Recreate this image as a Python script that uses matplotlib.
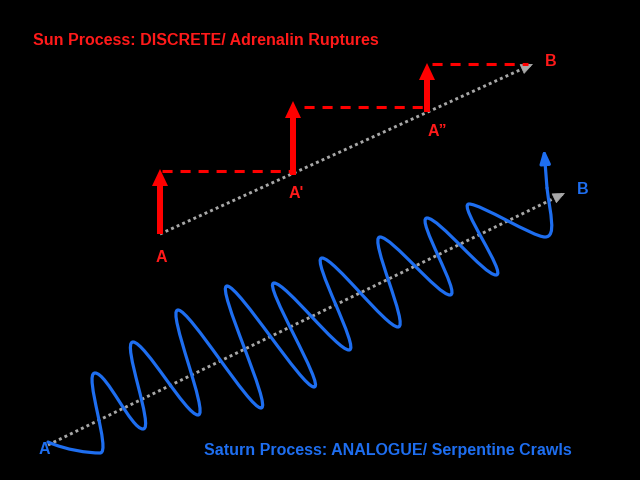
import matplotlib
matplotlib.use('Agg')
import matplotlib.pyplot as plt
from matplotlib.path import Path
from matplotlib.patches import PathPatch

plt.rcParams['font.family'] = ['Liberation Sans', 'DejaVu Sans']

RED = '#ff1a1a'
BLUE = '#1e6ef0'
GREY = '#a8a8a8'

# Sun process: step arrows (x, bottom, top) and dashed plateaus (y, x0, x1)
step_x = [160, 293, 427]
step_bottom = [234, 175, 112]
step_top = [169, 101, 63]
plateau_y = [171, 107, 64]
plateau_x0 = [162, 304, 432]
plateau_x1 = [290, 428, 528]
sun_line = [(160, 234), (533, 64)]
sun_labels = ['A', "A'", 'A\u201d', 'B']
sun_label_pos = [(161, 258), (296, 194), (437, 131), (551, 62)]

# Saturn process: wave extremes (trough, peak, trough, ...)
wave_start = (48, 442)
wave_nodes = [(100, 453), (95, 373), (143, 429), (133, 342), (198, 415),
              (178, 310), (261, 408), (227, 286), (314, 387), (274, 283),
              (349, 350), (322, 258), (398, 327), (380, 237), (450, 295),
              (427, 218), (496, 275), (469, 204), (545, 237)]
wave_end = (547, 188)
wave_tip = (544, 149)
sat_line = [(48, 445), (565, 193)]
sat_labels = ['A', 'B']
sat_label_pos = [(44, 450), (583, 189)]

fig = plt.figure(figsize=(6.4, 4.8), dpi=100, facecolor='black')
ax = fig.add_axes([0, 0, 1, 1])
ax.set_facecolor('black')
ax.set_xlim(0, 640)
ax.set_ylim(480, 0)
ax.axis('off')

# dotted guide lines with small heads
for (p0, p1) in [sun_line, sat_line]:
    ax.plot([p0[0], p1[0]], [p0[1], p1[1]], color=GREY, lw=2.1,
            linestyle=(0, (1, 1.1)), solid_capstyle='butt', zorder=1)
    dx, dy = p1[0] - p0[0], p1[1] - p0[1]
    ax.annotate('', xy=p1, xytext=(p1[0] - dx * 0.02, p1[1] - dy * 0.02),
                arrowprops=dict(arrowstyle='-|>,head_width=0.35,head_length=0.8',
                                color=GREY, lw=0.5, shrinkA=0, shrinkB=0),
                zorder=1)

# red step arrows and dashed plateaus
for x, yb, yt in zip(step_x, step_bottom, step_top):
    ax.arrow(x, yb, 0, yt - yb, width=6, head_width=16, head_length=17,
             length_includes_head=True, color='red', lw=0, zorder=3)
for y, x0, x1 in zip(plateau_y, plateau_x0, plateau_x1):
    ax.plot([x0, x1], [y, y], color='red', lw=2.2, linestyle=(0, (3.3, 2.6)),
            solid_capstyle='butt', zorder=2)

# blue wave as a chain of cubic Bezier segments, horizontal tangents at extremes
h = 12
verts = [wave_start, (wave_start[0] + 18, wave_start[1] + 8),
         (wave_nodes[0][0] - h, wave_nodes[0][1]), wave_nodes[0]]
codes = [Path.MOVETO, Path.CURVE4, Path.CURVE4, Path.CURVE4]
for a, b in zip(wave_nodes[:-1], wave_nodes[1:]):
    verts += [(a[0] + h, a[1]), (b[0] - h, b[1]), b]
    codes += [Path.CURVE4] * 3
last = wave_nodes[-1]
verts += [(last[0] + 12, last[1]), (wave_end[0] + 3, wave_end[1] + 25), wave_end]
codes += [Path.CURVE4] * 3
ax.add_patch(PathPatch(Path(verts, codes), facecolor='none', edgecolor=BLUE,
                       lw=2.3, capstyle='round', joinstyle='round', zorder=2))
ax.annotate('', xy=wave_tip, xytext=wave_end,
            arrowprops=dict(arrowstyle='-|>,head_width=0.3,head_length=0.8',
                            color=BLUE, lw=2.3, shrinkA=0, shrinkB=0), zorder=2)

# texts
ax.text(33, 40, 'Sun Process: DISCRETE/ Adrenalin Ruptures', color=RED,
        fontsize=11.5, fontweight='bold', ha='left', va='center')
ax.text(204, 450, 'Saturn Process: ANALOGUE/ Serpentine Crawls', color=BLUE,
        fontsize=11.5, fontweight='bold', ha='left', va='center')
for s, (x, y) in zip(sun_labels, sun_label_pos):
    ax.text(x, y, s, color=RED, fontsize=11.5, fontweight='bold',
            ha='center', va='center')
for s, (x, y) in zip(sat_labels, sat_label_pos):
    ax.text(x, y, s, color=BLUE, fontsize=11.5, fontweight='bold',
            ha='center', va='center')

fig.savefig('out.png', dpi=100, facecolor='black')
plt.close(fig)
